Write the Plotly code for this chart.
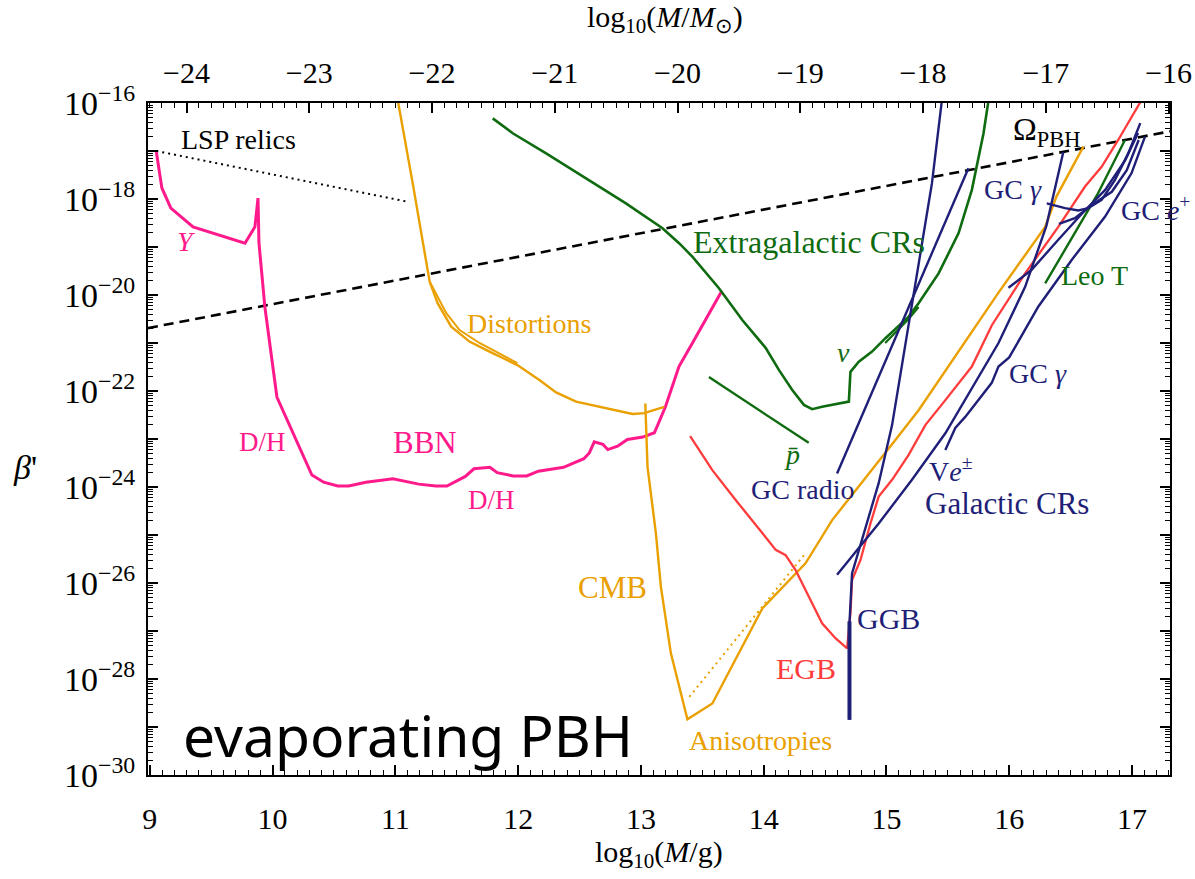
import numpy as np
import plotly.graph_objects as go

# ---------------- data (x = log10(M/g), y = log10(beta')) ----------------
lsp_x = [9.053, 11.087]
lsp_y = [-17.0, -18.05]

omega_x = [8.985, 17.31]
omega_y = [-20.69, -16.59]

bbn_x = [9.053, 9.098, 9.171, 9.352, 9.775, 9.856, 9.881, 9.889, 9.937, 9.994, 10.035,
         10.32, 10.416, 10.53, 10.62, 10.76, 10.98, 11.19, 11.33, 11.42, 11.57, 11.64,
         11.77, 11.83, 11.96, 12.07, 12.165, 12.37, 12.535, 12.58, 12.62, 12.69, 12.73,
         12.81, 12.89, 13.015, 13.11, 13.20, 13.31, 13.42, 13.66]
bbn_y = [-17.02, -17.77, -18.19, -18.58, -18.92, -18.58, -17.98, -18.92, -20.25, -21.35, -22.125,
         -23.75, -23.90, -23.98, -23.98, -23.90, -23.83, -23.94, -23.98, -23.98, -23.78, -23.62,
         -23.59, -23.70, -23.77, -23.77, -23.67, -23.59, -23.41, -23.29, -23.06, -23.11, -23.22,
         -23.15, -23.01, -22.96, -22.87, -22.33, -21.49, -21.0, -19.91]

dist_x = [11.02, 11.141, 11.279, 11.344, 11.455, 11.604, 11.767, 11.994, 12.173, 12.309,
          12.472, 12.715, 12.932, 13.027, 13.19]
dist_y = [-15.95, -17.67, -19.72, -20.17, -20.66, -20.97, -21.18, -21.46, -21.77, -22.03,
          -22.22, -22.35, -22.48, -22.46, -22.33]
dist2_x = [11.279, 11.415, 11.523, 11.685, 11.994]
dist2_y = [-19.72, -20.38, -20.73, -21.0, -21.42]

cmb_x = [13.036, 13.054, 13.122, 13.163, 13.244, 13.379, 13.582, 13.989, 14.341, 14.558,
         15.073, 15.262, 15.913, 16.293, 16.385, 16.604]
cmb_y = [-22.26, -23.58, -24.96, -26.08, -27.46, -28.84, -28.51, -26.53, -25.59, -24.69,
         -23.02, -22.40, -19.95, -18.58, -17.95, -16.91]
aniso_dot_x = [13.395, 14.341]
aniso_dot_y = [-28.37, -25.38]

egb_x = [13.401, 13.582, 13.772, 13.907, 13.989, 14.098, 14.179, 14.26, 14.355, 14.476,
         14.585, 14.68, 14.707, 14.72, 14.789, 14.87, 14.937, 15.046, 15.181, 15.317,
         15.48, 15.696, 15.859, 16.13, 16.40, 16.618, 16.753, 16.888, 17.078]
egb_y = [-22.94, -23.65, -24.27, -24.69, -24.96, -25.31, -25.42, -25.73, -26.21, -26.84,
         -27.15, -27.36, -26.63, -25.94, -25.52, -24.76, -24.20, -23.85, -23.33, -22.71,
         -22.19, -21.49, -20.63, -19.55, -18.58, -17.74, -17.33, -16.77, -15.94]

excr_x = [11.793, 11.956, 12.228, 12.553, 12.878, 13.176, 13.311, 13.419, 13.636, 13.826,
          14.016, 14.124, 14.233, 14.328, 14.395, 14.476, 14.585, 14.694, 14.707, 14.775,
          14.883, 14.992, 15.181, 15.262, 15.425, 15.588, 15.696, 15.791, 15.832]
excr_y = [-16.32, -16.63, -17.05, -17.57, -18.09, -18.61, -18.92, -19.20, -19.86, -20.52,
          -21.10, -21.56, -21.98, -22.29, -22.38, -22.33, -22.27, -22.22, -21.60, -21.39,
          -21.18, -20.90, -20.45, -20.17, -19.55, -18.71, -17.81, -16.63, -15.94]
nu_x = [14.99, 15.181, 15.262]
nu_y = [-21.0, -20.5, -20.25]

pbar_x = [13.554, 14.367]
pbar_y = [-21.71, -23.08]

leo_x = [16.293, 16.56, 16.72, 16.943]
leo_y = [-19.76, -18.58, -17.90, -16.77]

ggb_x = [14.699, 14.699, 14.72, 14.775, 14.937, 15.046, 15.208, 15.371, 15.452]
ggb_y = [-28.85, -26.84, -25.80, -25.31, -23.92, -22.71, -20.24, -17.67, -15.94]
ggb_thick_x = [14.699, 14.699]
ggb_thick_y = [-28.85, -26.8]

gcradio_x = [14.598, 15.668]
gcradio_y = [-23.72, -17.36]

ve_x = [14.598, 14.937, 15.208, 15.48, 15.913, 16.13, 16.303, 16.441]
ve_y = [-25.83, -24.76, -23.85, -22.88, -21.0, -19.83, -18.56, -17.02]

gcg_low_x = [15.48, 15.561, 15.642, 15.75, 15.858, 15.913, 16.0, 16.238, 16.509, 16.78,
             16.997, 17.106]
gcg_low_y = [-23.23, -22.77, -22.54, -22.19, -21.83, -21.49, -21.3, -20.24, -19.27, -18.37,
             -17.46, -16.70]

gcg_up_x = [16.306, 16.455, 16.563, 16.644, 16.753, 16.862, 16.97, 17.068]
gcg_up_y = [-18.09, -18.19, -18.24, -18.19, -18.02, -17.60, -17.05, -16.42]

gce_x = [16.405, 16.535, 16.673, 16.836, 16.958, 17.055]
gce_y = [-18.52, -18.40, -18.125, -17.85, -17.40, -16.77]

gcx_x = [15.994, 16.181, 16.40, 16.62, 16.782, 16.945, 17.05]
gcx_y = [-19.85, -19.48, -18.85, -18.23, -17.81, -17.19, -16.625]

x_ticks = [9, 10, 11, 12, 13, 14, 15, 16, 17]
top_ticks = [-24, -23, -22, -21, -20, -19, -18, -17, -16]
y_decades = list(range(-30, -15))
MSUN_LOG = 33.2986

# ---------------- styling ----------------
PINK = "#ff1a8c"
ORANGE = "#e9a000"
GREEN = "#0f6b0f"
NAVY = "#1f1f78"
RED = "#ff3b3b"
SERIF = "Liberation Serif"

fig = go.Figure()


def add(xs, ys, color, width=2.3, dash=None):
    fig.add_trace(go.Scatter(
        x=xs, y=10 ** np.array(ys, dtype=float), mode="lines",
        line=dict(color=color, width=width, dash=dash),
        showlegend=False, hoverinfo="skip"))


add(lsp_x, lsp_y, "black", 2, "2px,4px")
add(omega_x, omega_y, "black", 2.6, "10px,6px")
add(bbn_x, bbn_y, PINK, 3)
add(dist_x, dist_y, ORANGE, 2.4)
add(dist2_x, dist2_y, ORANGE, 2)
add(cmb_x, cmb_y, ORANGE, 2.4)
add(aniso_dot_x, aniso_dot_y, ORANGE, 2, "2px,4px")
add(egb_x, egb_y, RED, 2.3)
add(excr_x, excr_y, GREEN, 2.6)
add(nu_x, nu_y, GREEN, 2.2)
add(pbar_x, pbar_y, GREEN, 2.4)
add(leo_x, leo_y, GREEN, 2.4)
add(ggb_x, ggb_y, NAVY, 2.4)
add(ggb_thick_x, ggb_thick_y, NAVY, 4)
add(gcradio_x, gcradio_y, NAVY, 2.4)
add(ve_x, ve_y, NAVY, 2.4)
add(gcg_low_x, gcg_low_y, NAVY, 2.4)
add(gcg_up_x, gcg_up_y, NAVY, 2.4)
add(gce_x, gce_y, NAVY, 2.4)
add(gcx_x, gcx_y, NAVY, 2.4)

# invisible trace to activate the top axis
fig.add_trace(go.Scatter(x=[None], y=[None], xaxis="x2", showlegend=False, hoverinfo="skip"))

labels = [
    ("LSP relics", 9.72, -16.77, "black", 28),
    ("<i>Y</i>", 9.297, -18.875, PINK, 28),
    ("D/H", 9.92, -23.06, PINK, 27),
    ("BBN", 11.243, -23.08, PINK, 31),
    ("D/H", 11.779, -24.28, PINK, 27),
    ("Distortions", 12.09, -20.6, ORANGE, 28),
    ("Extragalactic CRs", 14.37, -18.89, GREEN, 32),
    ("<i>ν</i>", 14.647, -21.19, GREEN, 28),
    ("<i>p̄</i>", 14.233, -23.33, GREEN, 28),
    ("GC radio", 14.314, -24.06, NAVY, 28),
    ("CMB", 12.769, -26.09, ORANGE, 31),
    ("EGB", 14.341, -27.78, RED, 30),
    ("GGB", 15.019, -26.74, NAVY, 30),
    ("Anisotropies", 13.975, -29.29, ORANGE, 28),
    ("V<i>e</i><sup>±</sup>", 15.52, -23.63, NAVY, 28),
    ("Galactic CRs", 15.98, -24.35, NAVY, 31),
    ("GC <i>γ</i>", 16.238, -21.63, NAVY, 28),
    ("Leo T", 16.699, -19.6, GREEN, 28),
    ("GC <i>γ</i>", 16.035, -17.81, NAVY, 28),
    ("GC <i>e</i><sup>+</sup>", 17.19, -18.19, NAVY, 28),
    ("Ω<sub>PBH</sub>", 16.30, -16.6, "black", 32),
]
ann = []
for t, x, y, c, s in labels:
    ann.append(dict(text=t, x=x, y=y, xref="x", yref="y", showarrow=False,
                    xanchor="center", yanchor="middle",
                    font=dict(family=SERIF, size=s, color=c)))
ann.append(dict(text="evaporating PBH", x=11.10, y=-29.17, xref="x", yref="y",
                showarrow=False, xanchor="center", yanchor="middle",
                font=dict(family="Noto Sans", size=57, color="black")))
# axis titles
ann.append(dict(text="log<sub>10</sub>(<i>M</i>/g)", x=0.5, y=-0.118, xref="paper", yref="paper",
                showarrow=False, xanchor="center", yanchor="middle",
                font=dict(family=SERIF, size=30, color="black")))
ann.append(dict(text="log<sub>10</sub>(<i>M</i>/<i>M</i><sub>⊙</sub>)", x=0.506, y=1.125,
                xref="paper", yref="paper", showarrow=False, xanchor="center", yanchor="middle",
                font=dict(family=SERIF, size=30, color="black")))
ann.append(dict(text="<i>β</i>'", x=-0.12, y=0.458, xref="paper", yref="paper",
                showarrow=False, xanchor="center", yanchor="middle",
                font=dict(family=SERIF, size=34, color="black")))

ytext = ["10<sup>−%d</sup>" % (-d) if d % 2 == 0 else "" for d in y_decades]

fig.update_layout(
    width=1195, height=879, autosize=False,
    margin=dict(l=148, r=25, t=103, b=104, autoexpand=False),
    paper_bgcolor="white", plot_bgcolor="white",
    annotations=ann,
    xaxis=dict(range=[8.985, 17.31], tickmode="array", tickvals=x_ticks, automargin=False,
               ticks="inside", ticklen=10, tickwidth=1.5, tickcolor="black",
               showline=True, linewidth=2, linecolor="black", mirror=False,
               showgrid=False, zeroline=False,
               tickfont=dict(family=SERIF, size=30, color="black"),
               ticklabelstandoff=16,
               minor=dict(ticks="inside", ticklen=5, tickwidth=1, tickcolor="black",
                          dtick=0.1, tick0=9, showgrid=False)),
    xaxis2=dict(range=[8.985 - MSUN_LOG, 17.31 - MSUN_LOG], overlaying="x", side="top",
                anchor="y", tickmode="array", tickvals=top_ticks, automargin=False,
                ticks="inside", ticklen=10, tickwidth=1.5, tickcolor="black",
                showline=True, linewidth=2, linecolor="black",
                showgrid=False, zeroline=False,
                tickfont=dict(family=SERIF, size=30, color="black"),
                ticklabelstandoff=6,
                minor=dict(ticks="inside", ticklen=5, tickwidth=1, tickcolor="black",
                           dtick=0.1, tick0=-24, showgrid=False)),
    yaxis=dict(type="log", range=[-30, -16], tickmode="array", automargin=False,
               tickvals=[10.0 ** d for d in y_decades], ticktext=ytext,
               ticks="inside", ticklen=10, tickwidth=1.5, tickcolor="black",
               showline=True, linewidth=2, linecolor="black", mirror="ticks",
               showgrid=False, zeroline=False,
               tickfont=dict(family=SERIF, size=34, color="black"),
               ticklabelstandoff=4,
               minor=dict(ticks="inside", ticklen=5, tickwidth=1, tickcolor="black",
                          dtick="D1", showgrid=False)),
)

fig.write_html("out.html")
